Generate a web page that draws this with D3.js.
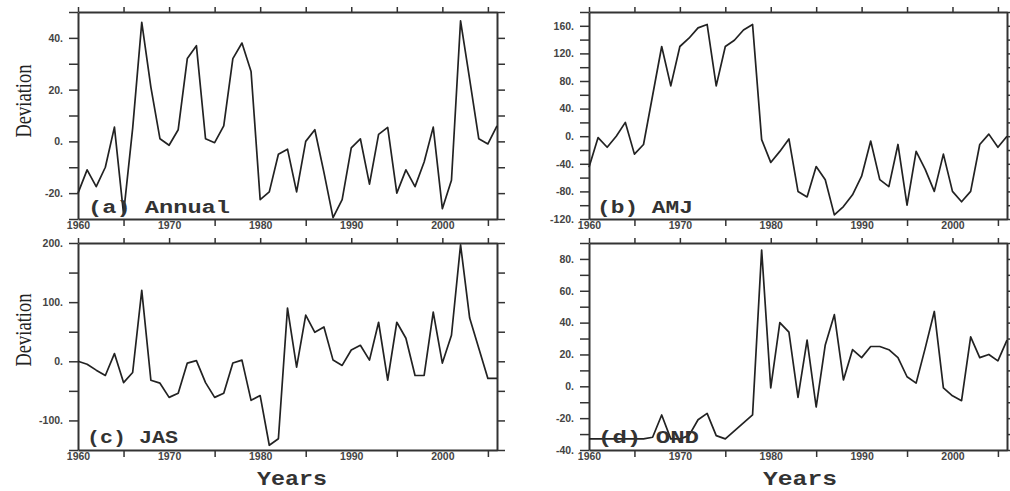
<!DOCTYPE html>
<html>
<head>
<meta charset="utf-8">
<script src="https://cdn.jsdelivr.net/npm/d3@7"></script>
<style>
  body { margin: 0; background: #fff; }
  svg { display: block; }
  .tick text { font-family: "Liberation Sans", Arial, sans-serif; font-weight: bold; font-size: 10.5px; fill: #444; }
  .tick line, .domain { stroke: #333; }
</style>
</head>
<body>
<svg id="chart" width="1010" height="491"></svg>
<script>
// deviation series, one value per year 1960-2006
const startYear = 1960;
const annual = [-20, -11, -17.5, -10, 5.5, -28, 5, 46, 21, 1,
  -1.5, 4.5, 32, 37, 1, -0.5, 6, 32, 38, 27,
  -22.5, -19.5, -5, -3, -19.5, 0, 4.5, -12, -29.5, -22.5,
  -2.5, 1, -16.5, 2.7, 5.4, -20, -11, -17.5, -8, 5.5,
  -26, -15, 46.6, 24, 1, -1, 6];
const amj = [-45, -2, -16, 0, 20, -26, -12, 59, 130, 73,
  130, 142, 157, 162, 73, 130, 139, 154, 162, -5,
  -38, -22, -4, -80, -88, -44, -63, -114, -102, -85,
  -58, -7, -63, -73, -12, -100, -22, -48, -80, -26,
  -80, -95, -80, -12, 3, -16, 0];
const jas = [0, -5, -15, -24, 13, -36, -19, 120, -32, -37,
  -61, -54, -3, 1, -36, -61, -54, -3, 2, -66,
  -58, -142, -131, 90, -10, 78, 49, 58, 2, -7,
  19, 27, 2, 66, -32, 66, 39, -24, -24, 83,
  -3, 44, 197, 73, 22, -29, -29];
const ond = [-33, -33, -33, -33, -33, -33, -33, -32, -18, -33,
  -33, -31, -21, -17, -31, -33, -28, -23, -18, 85.6,
  -1, 40, 34, -7, 29, -13, 26, 45, 4, 23,
  18, 25, 25, 23, 18, 6, 2, 24, 47, -1,
  -6, -9, 31, 18, 20, 16, 29];

// tick labels
const yearTicks = [1960, 1970, 1980, 1990, 2000];
const yearMinor = [1960, 1965, 1970, 1975, 1980, 1985, 1990, 1995, 2000, 2005];
const annualTicks = [-20, 0, 20, 40];
const amjTicks = [-120, -80, -40, 0, 40, 80, 120, 160];
const jasTicks = [-100, 0, 100, 200];
const ondTicks = [-40, -20, 0, 20, 40, 60, 80];

const svg = d3.select('#chart');

const panels = [
  { values: annual, label: '(a) Annual', labels: annualTicks, domain: [-30, 50], step: 10,
    left: 78, right: 497, top: 12, bottom: 219, lx: 88, ly: 213, lw: 142 },
  { values: amj, label: '(b) AMJ', labels: amjTicks, domain: [-120, 180], step: 20,
    left: 589, right: 1007, top: 12, bottom: 219, lx: 597, ly: 213, lw: 96 },
  { values: jas, label: '(c) JAS', labels: jasTicks, domain: [-150, 200], step: 50,
    left: 78, right: 497, top: 243, bottom: 450, lx: 87, ly: 443, lw: 91 },
  { values: ond, label: '(d) OND', labels: ondTicks, domain: [-40, 90], step: 10,
    left: 589, right: 1007, top: 243, bottom: 450, lx: 598, ly: 443, lw: 101 },
];

panels.forEach(p => {
  const years = d3.range(startYear, startYear + p.values.length);
  const x = d3.scaleLinear().domain([1960, 2006]).range([p.left, p.right]);
  const y = d3.scaleLinear().domain(p.domain).range([p.bottom, p.top]);
  const yMinor = d3.range(p.domain[0], p.domain[1] + 0.001, p.step);
  const g = svg.append('g');

  // left axis with labels
  g.append('g')
    .attr('transform', `translate(${p.left},0)`)
    .call(d3.axisLeft(y).tickValues(yMinor).tickSize(9).tickSizeOuter(0).tickPadding(6)
      .tickFormat(d => p.labels.includes(d) ? d + '.' : ''));

  // right axis, ticks only
  g.append('g')
    .attr('transform', `translate(${p.right},0)`)
    .call(d3.axisRight(y).tickValues(yMinor).tickSize(8).tickSizeOuter(0).tickFormat(''));

  // top axis, ticks only
  g.append('g')
    .attr('transform', `translate(0,${p.top})`)
    .call(d3.axisTop(x).tickValues(yearMinor).tickSize(5).tickSizeOuter(0).tickFormat(''));

  // bottom axis, labels on the decades
  const bottom = g.append('g')
    .attr('transform', `translate(0,${p.bottom})`)
    .call(d3.axisBottom(x).tickValues(yearMinor).tickSize(7).tickSizeOuter(0).tickPadding(-4)
      .tickFormat(d => yearTicks.includes(d) ? d : ''));
  bottom.selectAll('.tick').filter(d => yearTicks.includes(d)).select('line').remove();

  g.selectAll('.domain').attr('stroke-width', 2);
  g.selectAll('.tick line').attr('stroke-width', 1.5);

  const line = d3.line()
    .x((d, i) => x(years[i]))
    .y(d => y(d));

  g.append('path')
    .datum(p.values)
    .attr('d', line)
    .attr('fill', 'none')
    .attr('stroke', '#222')
    .attr('stroke-width', 1.7)
    .attr('stroke-linejoin', 'round');

  g.append('text')
    .attr('x', p.lx)
    .attr('y', p.ly)
    .attr('textLength', p.lw)
    .attr('lengthAdjust', 'spacingAndGlyphs')
    .style('font-family', '"Liberation Mono", "Courier New", monospace')
    .style('font-weight', 'bold')
    .style('font-size', '19px')
    .style('fill', '#333')
    .text(p.label);
});

// axis titles
[101, 330].forEach(cy => {
  svg.append('text')
    .attr('transform', `translate(31,${cy}) rotate(-90)`)
    .attr('text-anchor', 'middle')
    .attr('textLength', 73)
    .attr('lengthAdjust', 'spacingAndGlyphs')
    .style('font-family', '"Liberation Serif", "Times New Roman", serif')
    .style('font-size', '23px')
    .style('fill', '#222')
    .text('Deviation');
});

[[257, 70], [763, 74]].forEach(([lx, w]) => {
  svg.append('text')
    .attr('x', lx)
    .attr('y', 485)
    .attr('textLength', w)
    .attr('lengthAdjust', 'spacingAndGlyphs')
    .style('font-family', '"Liberation Mono", "Courier New", monospace')
    .style('font-weight', 'bold')
    .style('font-size', '21px')
    .style('fill', '#333')
    .text('Years');
});
</script>
</body>
</html>
